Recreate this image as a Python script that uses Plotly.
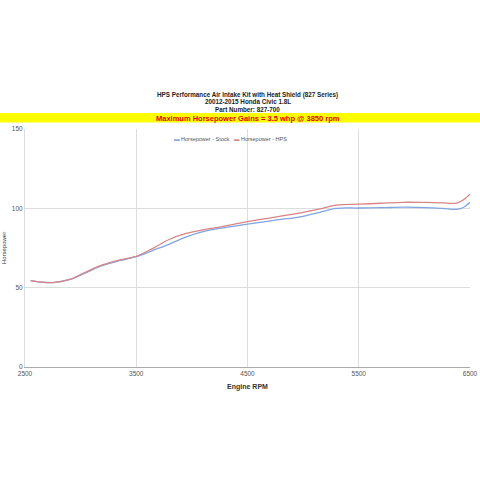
import plotly.graph_objects as go

rpm = [2550, 2650, 2750, 2900, 3050, 3200, 3350, 3500, 3650, 3800, 3950, 4100, 4250,
       4500, 4750, 5000, 5150, 5300, 5500, 5700, 5900, 6100, 6250, 6380, 6440, 6500]
stock = [54.4, 53.5, 53.2, 55.0, 59.5, 64.0, 67.0, 69.5, 73.5, 77.5, 82.0, 85.3, 87.4,
         90.0, 92.5, 95.0, 97.5, 100.0, 100.2, 100.4, 100.7, 100.5, 100.0, 99.4, 100.5, 103.8]
hps = [54.4, 53.5, 53.2, 55.2, 60.0, 64.5, 67.5, 69.8, 74.8, 80.5, 84.2, 86.4, 88.2,
       91.6, 94.5, 97.5, 99.6, 102.0, 102.6, 103.2, 103.8, 103.7, 103.5, 103.3, 105.3, 108.9]
x_ticks = [2500, 3500, 4500, 5500, 6500]
y_ticks = [0, 50, 100, 150]

title_lines = ["HPS Performance Air Intake Kit with Heat Shield (827 Series)",
               "20012-2015 Honda Civic 1.8L",
               "Part Number: 827-700"]
banner = "Maximum Horsepower Gains = 3.5 whp @ 3850 rpm"
names = ["Horsepower - Stock", "Horsepower - HPS"]
colors = ["#7fa5e0", "#d98585"]

fnt = "Liberation Sans, Arial, sans-serif"

fig = go.Figure()
for ys, nm, c in zip([stock, hps], names, colors):
    fig.add_trace(go.Scatter(x=rpm, y=ys, mode="lines", name=nm, showlegend=False,
                             line=dict(color=c, width=1.3, shape="spline")))

W, H = 480, 480
L, R, T, B = 25, 10, 129, 113
pw = W - L - R
ph = H - T - B

fig.update_layout(
    width=W, height=H,
    margin=dict(l=L, r=R, t=T, b=B, autoexpand=False),
    paper_bgcolor="white", plot_bgcolor="white",
    font=dict(family=fnt, size=7, color="#444"),
    showlegend=False,
    xaxis=dict(range=[2500, 6500], tickvals=x_ticks, ticktext=[str(v) for v in x_ticks],
               showgrid=True, gridcolor="#dddddd", gridwidth=1, automargin=False,
               showline=True, linecolor="#aaaaaa", linewidth=1, zeroline=False,
               ticks="", tickfont=dict(size=6.5, color="#555"),
               title=dict(text="<b>Engine RPM</b>", font=dict(size=7, color="#333"), standoff=8)),
    yaxis=dict(range=[0, 150], tickvals=y_ticks, ticktext=[str(v) for v in y_ticks],
               showgrid=True, gridcolor="#dddddd", gridwidth=1, automargin=False,
               showline=True, linecolor="#dddddd", linewidth=1, zeroline=False,
               ticks="", tickfont=dict(size=6.5, color="#555"),
               title=dict(text="Horsepower", font=dict(size=6, color="#333"), standoff=4)),
)

# legend drawn as a compact annotation
leg = "   ".join(f"<span style='color:{c}'>▬</span> {nm}" for nm, c in zip(names, colors))
fig.add_annotation(text=leg, xref="paper", yref="paper",
                   x=(230 - L) / pw, y=1 - 10 / ph, showarrow=False,
                   xanchor="center", yanchor="middle",
                   font=dict(size=5.5, color="#555", family=fnt))

fig.add_shape(type="rect", xref="paper", yref="paper",
              x0=-L / pw, x1=1 + R / pw, y0=1 + 6.6 / ph, y1=1 + 16 / ph,
              fillcolor="#ffff00", line=dict(width=0), layer="below")
fig.add_annotation(text="<b>" + banner + "</b>", xref="paper", yref="paper",
                   x=0.5, y=1 + 10.8 / ph, showarrow=False,
                   font=dict(size=7.5, color="#e00000", family=fnt), yanchor="middle")
for i, line in enumerate(title_lines):
    ypx = [34.5, 27, 19.8][i]
    fig.add_annotation(text="<b>" + line + "</b>", xref="paper", yref="paper",
                       x=0.5, y=1 + ypx / ph, showarrow=False, yanchor="middle",
                       font=dict(size=6.3, color="#222", family=fnt))

fig.write_html("out.html", config={"displayModeBar": False},
               post_script="document.body.style.margin='0px';")
